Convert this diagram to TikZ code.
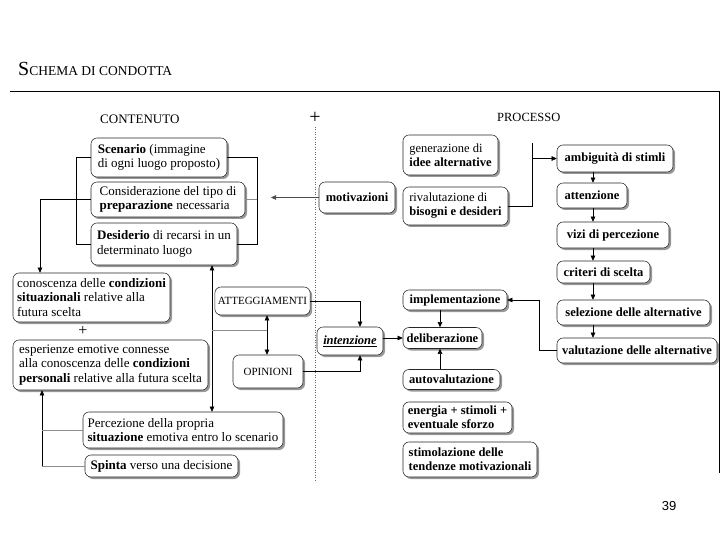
\documentclass[tikz,border=0pt]{standalone}
\usepackage{fontspec}
\setmainfont{Liberation Serif}
\newfontfamily\numfont{Liberation Sans}
\usetikzlibrary{arrows.meta,shadows}
\begin{document}
\begin{tikzpicture}[x=1pt,y=-1pt,
  cbox/.style={draw=black!85, line width=0.55pt, rounded corners=6pt, fill=white, align=left,
    inner xsep=3pt, inner ysep=2pt, font=\fontsize{13}{14.5}\selectfont,
    drop shadow={shadow xshift=2pt, shadow yshift=-2pt, fill=black!80}},
  mbox/.style={cbox, font=\fontsize{12.5}{14}\selectfont},
  pbox/.style={cbox, font=\bfseries\fontsize{12.5}{14}\selectfont},
  capbox/.style={cbox, align=center, font=\fontsize{11}{13}\selectfont},
  arr/.style={-{Triangle[length=5pt,width=4.5pt]}, line width=0.5pt},
  arrb/.style={{Triangle[length=5pt,width=4.5pt]}-{Triangle[length=5pt,width=4.5pt]}, line width=0.5pt},
  faint/.style={draw=black!45, line width=0.4pt},
  lbl/.style={inner sep=0pt, font=\fontsize{12.5}{14}\selectfont}]

\fill[white] (0,0) rectangle (720,540);
\useasboundingbox (0,0) rectangle (720,540);

% title and frame
\node[anchor=base west, inner sep=0pt] (title) at (18,76)
  {{\fontsize{20}{20}\selectfont S}{\fontsize{13.5}{14}\selectfont CHEMA DI CONDOTTA}};
\draw[line width=0.8pt] (10,91) -- (719.5,91) -- (719.5,473);

% headings
\node[lbl, anchor=base west, font=\fontsize{13}{14}\selectfont] (cont) at (100,124) {CONTENUTO};
\node[lbl, anchor=base west] (proc) at (497,122) {PROCESSO};
\node[inner sep=0pt, font=\fontsize{20}{20}\selectfont] (plusa) at (315,118) {+};
\node[inner sep=0pt, font=\fontsize{16}{16}\selectfont] (plusb) at (83,331) {+};

% dotted separator
\draw[dotted, black!60, line width=0.5pt] (315,127) -- (315,482);

% left column
\node[cbox, minimum width=136, minimum height=39] (scen) at (159,157.5)
  {\textbf{Scenario} (immagine\\di ogni luogo proposto)};
\node[cbox, minimum width=154, minimum height=35] (cons) at (168,199.5)
  {Considerazione del tipo di\\\textbf{preparazione} necessaria};
\node[cbox, minimum width=146, minimum height=42] (desi) at (164,244)
  {\textbf{Desiderio} di recarsi in un\\determinato luogo};
\node[cbox, minimum width=157, minimum height=49] (conos) at (91.5,297.5)
  {conoscenza delle \textbf{condizioni}\\\textbf{situazionali} relative alla\\futura scelta};
\node[cbox, minimum width=195, minimum height=50] (esper) at (110.5,365)
  {esperienze emotive connesse\\alla conoscenza delle \textbf{condizioni}\\\textbf{personali} relative alla futura scelta};
\node[cbox, minimum width=200, minimum height=36] (perc) at (183,430)
  {Percezione della propria\\\textbf{situazione} emotiva entro lo scenario};
\node[cbox, minimum width=153, minimum height=22] (spin) at (161.5,466)
  {\textbf{Spinta} verso una decisione};

% middle column
\node[capbox, minimum width=95, minimum height=28] (att) at (262.5,301) {ATTEGGIAMENTI};
\node[capbox, minimum width=70, minimum height=33] (opin) at (268,371.5) {OPINIONI};
\node[pbox, minimum width=76, minimum height=31] (motiv) at (357,197.5) {motivazioni};
\node[pbox, minimum width=66, minimum height=28] (inten) at (350,341) {\textit{\underline{intenzione}}};

% process column
\node[mbox, minimum width=95, minimum height=40] (gen) at (450.5,155)
  {generazione di\\\textbf{idee alternative}};
\node[mbox, minimum width=105, minimum height=38] (riv) at (455.5,206)
  {rivalutazione di\\\textbf{bisogni e desideri}};
\node[pbox, minimum width=104, minimum height=20] (impl) at (455,300) {implementazione};
\node[pbox, minimum width=79, minimum height=21] (deli) at (442.5,338) {deliberazione};
\node[pbox, minimum width=97, minimum height=20] (auto) at (451.5,379.5) {autovalutazione};
\node[pbox, minimum width=109, minimum height=31] (ener) at (457.5,417.5)
  {energia + stimoli +\\eventuale sforzo};
\node[pbox, minimum width=134, minimum height=35] (stim) at (470,459.5)
  {stimolazione delle\\tendenze motivazionali};

% right column
\node[pbox, minimum width=116, minimum height=27] (amb) at (615,158.5) {ambiguità di stimli};
\node[pbox, minimum width=70, minimum height=25] (atte) at (592,195.5) {attenzione};
\node[pbox, minimum width=112, minimum height=26] (vizi) at (613,235) {vizi di percezione};
\node[pbox, minimum width=93, minimum height=22] (crit) at (603.5,272) {criteri di scelta};
\node[pbox, minimum width=153, minimum height=25] (sele) at (633.5,312.5) {selezione delle alternative};
\node[pbox, minimum width=160, minimum height=25] (valu) at (637,350.5) {valutazione delle alternative};

% page number
\node[anchor=base, inner sep=0pt, font=\numfont\fontsize{13}{13}\selectfont] (pg) at (669,510) {39};

% helper coordinates
\coordinate (lb) at (76,0);
\coordinate (rb) at (257,0);
\coordinate (lx) at (40,0);
\coordinate (ma) at (271,0);
\coordinate (bx) at (532,0);
\coordinate (bt) at (0,143);
\coordinate (ax) at (593,0);
\coordinate (vx) at (539,0);
\coordinate (dx) at (440,0);
\coordinate (ix) at (360,0);
\coordinate (ox) at (267,0);
\coordinate (mx) at (212,0);
\coordinate (hm) at (0,330);
\coordinate (lxb) at (42,0);

% connectors, left
\draw[line width=0.5pt] (scen.west) -| (lb |- desi.west) -- (desi.west);
\draw[line width=0.5pt] (scen.east) -| (rb |- desi.east) -- (desi.east);
\draw[faint] (cons.east) -- (rb |- cons.east);
\draw[arr] (cons.west) -| (lx |- conos.north);
\draw[arr, black!70] (motiv.west) -- (ma |- motiv.west);
\draw[arrb] (mx |- desi.south) -- (mx |- perc.north);
\draw[faint] (mx |- hm) -- (ox |- hm);
\draw[arrb] (att.south -| ox) -- (opin.north -| ox);
\draw[arr] (lxb |- spin.west) -- (lxb |- esper.south);
\draw[faint] (spin.west) -- (lxb |- spin.west);
\draw[faint] (perc.west) -- (lxb |- perc.west);

% connectors, middle
\draw[arr] (att.east) -| (ix |- inten.north);
\draw[arr] (opin.east) -| (ix |- inten.south);
\draw[arr] (inten.east |- deli.west) -- (deli.west);

% connectors, process
\draw[line width=0.5pt] (riv.east) -| (bx |- bt);
\draw[arr] (bx |- amb.west) -- (amb.west);
\foreach \a/\b in {amb/atte, atte/vizi, vizi/crit, crit/sele, sele/valu}
  \draw[arr] (\a.south -| ax) -- (\b.north -| ax);
\draw[arr] (valu.west) -| (vx |- impl.east) -- (impl.east);
\draw[arr] (impl.south -| dx) -- (deli.north -| dx);
\draw[arr] (auto.north -| dx) -- (deli.south -| dx);

\end{tikzpicture}
\end{document}
